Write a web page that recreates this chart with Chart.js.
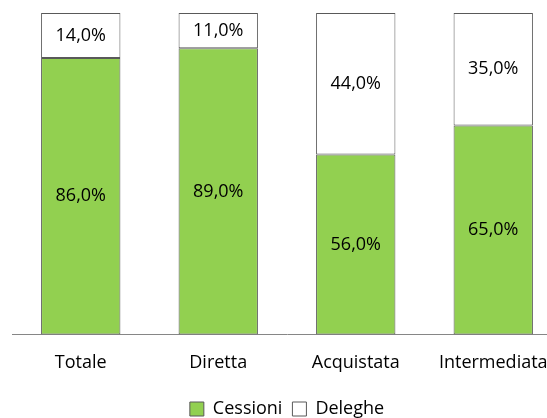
<!DOCTYPE html>
<html>
<head>
<meta charset="utf-8">
<script src="https://cdn.jsdelivr.net/npm/chart.js@4"></script>
<style>
  html, body { margin: 0; padding: 0; overflow: hidden; background: #fff; }
  #wrap { width: 562px; height: 428px; }
</style>
</head>
<body>
<div id="wrap"><canvas id="chartdiv"></canvas></div>
<script>
var categories = ["Totale", "Diretta", "Acquistata", "Intermediata"];
var cessioni = [86.0, 89.0, 56.0, 65.0];
var deleghe = [14.0, 11.0, 44.0, 35.0];

// draw the value inside each segment
var segmentLabels = {
   id: "segmentLabels",
   afterDatasetsDraw: function(chart) {
      var ctx = chart.ctx;
      ctx.save();
      ctx.font = "18px 'Open Sans'";
      ctx.fillStyle = "#000";
      ctx.textAlign = "center";
      ctx.textBaseline = "middle";
      chart.data.datasets.forEach(function(ds, i) {
         chart.getDatasetMeta(i).data.forEach(function(bar, j) {
            var y = (bar.y + bar.base) / 2;
            ctx.fillText(ds.data[j].toFixed(1).replace(".", ",") + "%", bar.x, y);
         });
      });
      ctx.restore();
   }
};

var chart = new Chart(document.getElementById("chartdiv"), {
   type: "bar",
   data: {
      labels: categories,
      datasets: [{
         label: "Cessioni",
         data: cessioni,
         backgroundColor: "#92D050",
         borderColor: "#595959",
         borderWidth: 1,
         borderSkipped: false
      }, {
         label: "Deleghe",
         data: deleghe,
         backgroundColor: "#FFFFFF",
         borderColor: "#595959",
         borderWidth: 1,
         borderSkipped: false
      }]
   },
   options: {
      responsive: true,
      maintainAspectRatio: false,
      animation: false,
      layout: { padding: { left: 12, right: 0, top: 13, bottom: 0 } },
      datasets: { bar: { barPercentage: 0.577, categoryPercentage: 1 } },
      scales: {
         x: {
            stacked: true,
            grid: { display: false },
            border: { display: true, color: "#868686" },
            ticks: { color: "#000", font: { family: "'Open Sans'", size: 18 }, padding: 10 },
            afterFit: function(scale) { scale.height += 6; }
         },
         y: {
            stacked: true,
            display: false,
            min: 0,
            max: 100
         }
      },
      plugins: {
         tooltip: { enabled: false },
         legend: {
            position: "bottom",
            labels: {
               color: "#000",
               font: { family: "'Open Sans'", size: 18 },
               boxWidth: 14,
               boxHeight: 14,
               padding: 10
            }
         }
      }
   },
   plugins: [segmentLabels]
});
</script>
</body>
</html>
